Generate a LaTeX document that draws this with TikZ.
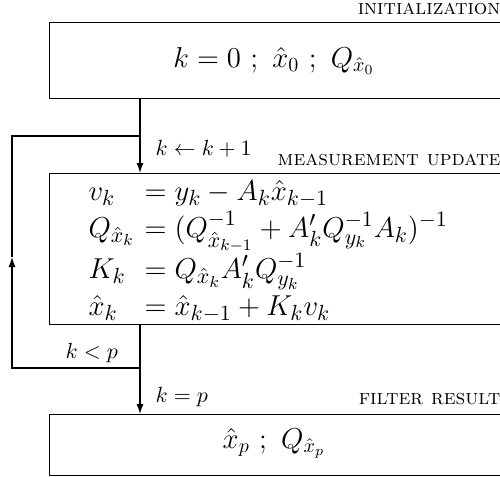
\documentclass[tikz,border=0pt]{standalone}
\usepackage{amsmath,amssymb}
\usetikzlibrary{arrows.meta}

\begin{document}
\begin{tikzpicture}[x=0.5pt,y=-0.5pt,>={Latex[length=5pt,width=3.5pt]},line width=0.6pt]
	\tikzset{box/.style={draw,inner sep=0pt,anchor=north west,minimum width=240pt},
		tag/.style={inner sep=0pt,anchor=base east,font=\fontsize{10.6}{12}\selectfont},
		cond/.style={inner sep=0pt,anchor=base west,font=\fontsize{11}{13}\selectfont}}
	\useasboundingbox (0,0) rectangle (500,477);
	\clip (0,0) rectangle (500,477);
	
	% the three steps
	\node[box,minimum height=38pt] (init) at (49,22) {};
	\node[box,minimum height=75.5pt] (meas) at (49,173) {};
	\node[box,minimum height=30.5pt] (result) at (49,414) {};
	
	\node[tag] (t1) at (501,14) {\textsc{initialization}};
	\node[tag] (t2) at (501,165) {\textsc{measurement update}};
	\node[tag] (t3) at (501,404) {\textsc{filter result}};
	
	\node[inner sep=0pt,anchor=base,font=\Large] (e1) at (274,67) {$k=0\ ;\ \hat{x}_0\ ;\ Q_{\hat{x}_0}$};
	\node[inner sep=0pt,anchor=base west,font=\fontsize{15.6}{18.5}\selectfont] (e2) at (88,200) {$\begin{array}[t]{@{}l@{\hspace{5pt}}l@{}}
			v_k & = y_k - A_k\hat{x}_{k-1}\\
			Q_{\hat{x}_k} & = (Q^{-1}_{\hat{x}_{k-1}} + A'_k Q^{-1}_{y_k} A_k)^{-1}\\
			K_k & = Q_{\hat{x}_k} A'_k Q^{-1}_{y_k}\\
			\hat{x}_k & = \hat{x}_{k-1} + K_k v_k
		\end{array}$};
	\node[inner sep=0pt,anchor=base,font=\Large] (e3) at (274,448) {$\hat{x}_p\ ;\ Q_{\hat{x}_p}$};
	
	% flow and loop
	\coordinate (trunk) at (140,0);
	\coordinate (lo) at (140,368);
	\coordinate (hi) at (140,136);
	\coordinate (turn) at (12,257);
	\draw[->] (init.south -| trunk) -- (meas.north -| trunk);
	\draw[->] (meas.south -| trunk) -- (result.north -| trunk);
	\draw[->] (lo) -- (lo -| turn) -- (turn);
	\draw (turn) -- (turn |- hi) -- (hi);
	
	\node[cond] (c1) at (155,155) {$k \leftarrow k+1$};
	\node[cond] (c2) at (65,358) {$k<p$};
	\node[cond] (c3) at (155,402) {$k=p$};
\end{tikzpicture}
\end{document}
